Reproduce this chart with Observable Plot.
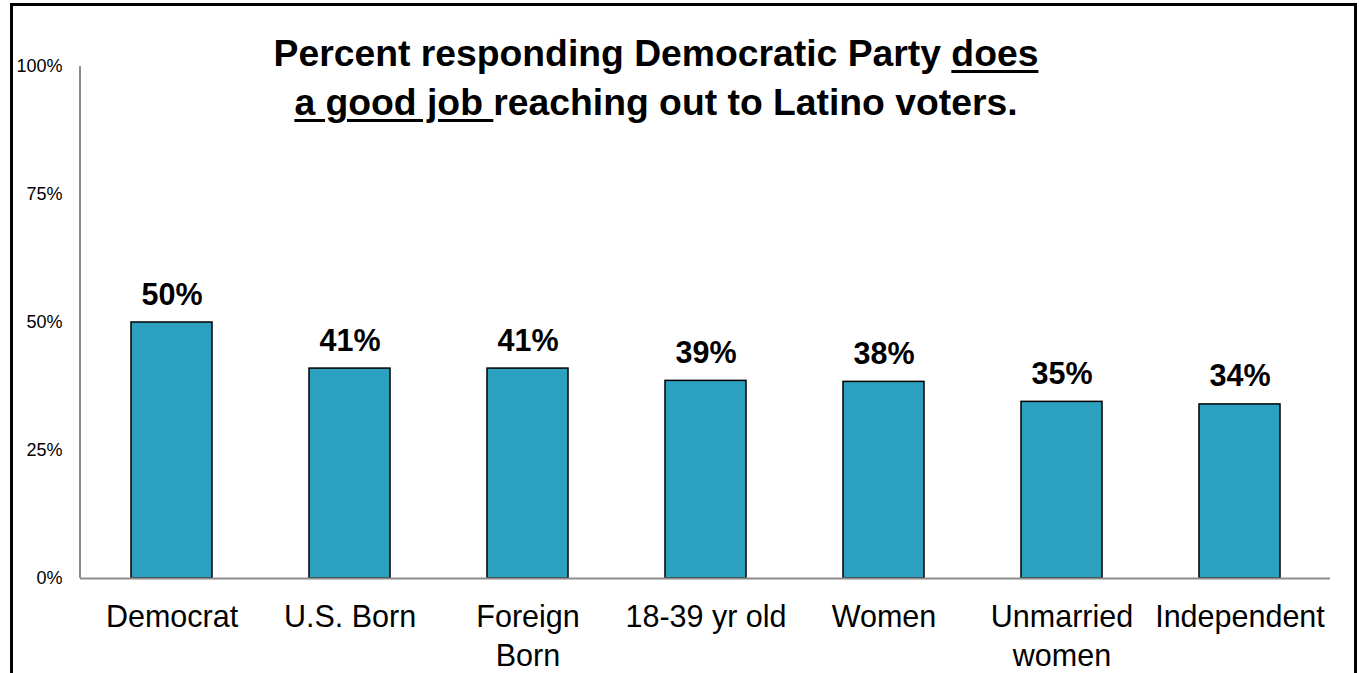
<!DOCTYPE html>
<html>
<head>
<meta charset="utf-8">
<script src="https://cdn.jsdelivr.net/npm/d3@7"></script>
<script src="https://cdn.jsdelivr.net/npm/@observablehq/plot@0.6"></script>
<style>
  html, body { margin: 0; padding: 0; overflow: hidden; background: #fff; }
  #wrap { position: relative; width: 1359px; height: 673px; font-family: Arial, "Liberation Sans", sans-serif; }
  #border { position: absolute; left: 10px; top: 3px; width: 1347px; height: 720px; box-sizing: border-box;
            border: 3px solid #000; border-bottom: none; pointer-events: none; }
  #title { position: absolute; left: 0; top: 29px; width: 1312px; text-align: center; font-weight: bold;
           font-size: 37.3px; line-height: 49px; color: #000; }
  #title u { text-decoration-thickness: 3px; text-underline-offset: 4px; }
  #chart { position: absolute; left: 0; top: 0; }
</style>
</head>
<body>
<div id="wrap">
  <div id="chart"></div>
  <div id="title">Percent responding Democratic Party <u>does</u><br><u>a good job </u>reaching out to Latino voters.</div>
  <div id="border"></div>
</div>
<script>
const categories = ["Democrat", "U.S. Born", "Foreign\nBorn", "18-39 yr old", "Women", "Unmarried\nwomen", "Independent"];
const values = [50, 41, 41, 38.6, 38.4, 34.5, 34];
const valueLabels = ["50%", "41%", "41%", "39%", "38%", "35%", "34%"];
const yTicks = [0, 25, 50, 75, 100];

const data = categories.map((c, i) => ({category: c, value: values[i], label: valueLabels[i]}));

const yAxisLine = (index, scales, values, dimensions) => {
  const x = dimensions.marginLeft;
  return d3.create("svg:line")
    .attr("x1", x).attr("x2", x)
    .attr("y1", scales.y(100)).attr("y2", scales.y(0))
    .attr("stroke", "#8c8c8c").attr("stroke-width", 2)
    .node();
};

const chart = Plot.plot({
  width: 1359,
  height: 673,
  marginLeft: 80,
  marginRight: 29,
  marginTop: 66,
  marginBottom: 95,
  style: {fontFamily: "Arial, 'Liberation Sans', sans-serif", fontSize: "18px", color: "#000", background: "transparent"},
  x: {domain: categories, paddingInner: 0.547, paddingOuter: 0.2735, axis: null},
  y: {domain: [0, 100], axis: null},
  marks: [
    Plot.barY(data, {x: "category", y: "value", fill: "#2ca1bf", stroke: "#000", strokeWidth: 1.5}),
    Plot.ruleY([0], {stroke: "#8c8c8c", strokeWidth: 2, strokeOpacity: 1}),
    yAxisLine,
    Plot.axisY({ticks: yTicks, tickFormat: d => d + "%", tickSize: 0, tickPadding: 18, fill: "#000", label: null}),
    Plot.text(data, {x: "category", y: "value", text: "label", lineAnchor: "bottom", dy: -18,
                     fontSize: 30.5, fontWeight: "bold", fill: "#000"}),
    Plot.text(categories, {x: d => d, frameAnchor: "bottom", lineAnchor: "top", dy: 20,
                           fontSize: 30.5, lineHeight: 1.3, fill: "#000"})
  ]
});
document.getElementById("chart").appendChild(chart);
</script>
</body>
</html>
